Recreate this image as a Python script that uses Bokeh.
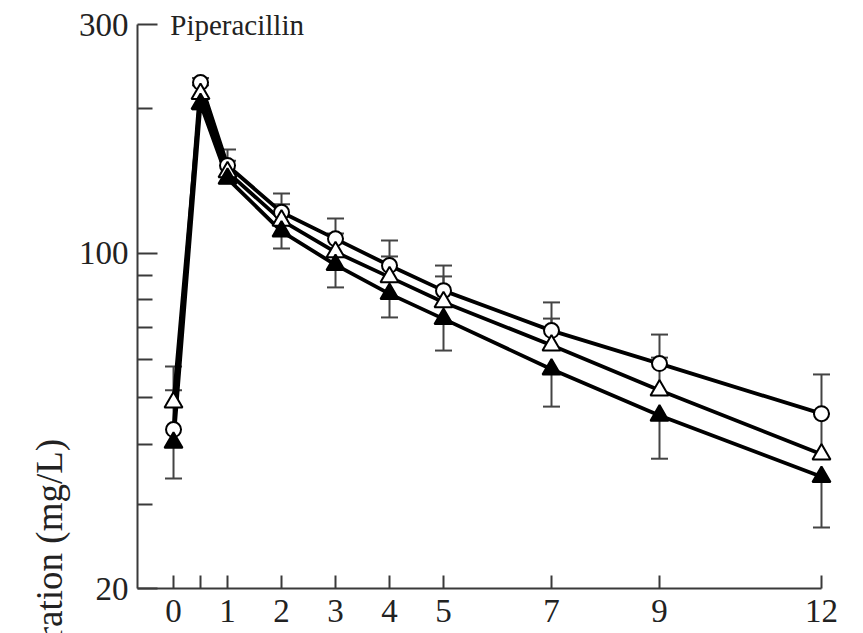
import math
from bokeh.plotting import figure
from bokeh.models import (Range1d, FixedTicker, Label, Whisker, TeeHead,
                          ColumnDataSource, Title)
from bokeh.embed import file_html
from bokeh.resources import INLINE

# ---- data ----
time_h = [0, 0.5, 1, 2, 3, 4, 5, 7, 9, 12]
x_tick_labels = ["0", "", "1", "2", "3", "4", "5", "7", "9", "12"]
y_major = [20, 100, 300]
y_minor = [30, 40, 50, 60, 70, 80, 90, 200]

circle_mean = [42.9, 227.0, 152.5, 121.8, 107.2, 94.3, 83.6, 69.0, 58.9, 46.3]
circle_upper = [58.1, 232.0, 164.7, 133.3, 118.2, 106.4, 94.3, 79.0, 67.7, 55.9]

open_tri_mean = [48.9, 215.0, 147.7, 117.1, 100.6, 89.2, 79.1, 64.3, 51.8, 38.1]
open_tri_upper = [51.8, 224.0, 156.0, 126.5, 110.0, 98.5, 89.5, 73.1, 60.6, 46.3]

filled_tri_mean = [40.3, 205.0, 143.2, 111.1, 94.6, 82.3, 73.0, 57.3, 45.9, 34.2]
filled_tri_lower = [33.9, 199.5, 140.0, 102.4, 84.9, 73.5, 62.7, 47.9, 37.3, 26.8]

title_text = "Piperacillin"
y_title = "Concentration (mg/L)"

# ---- styling ----
FONT = "Liberation Serif"
FS = "33px"
AX = "#3a3a3a"
ERR = "#444444"

p = figure(width=863, height=633, y_axis_type="log",
           x_range=Range1d(-0.667, 12.778), y_range=Range1d(20, 336.7),
           output_backend="svg", toolbar_location=None,
           min_border_left=137, min_border_right=0,
           min_border_top=0, min_border_bottom=45)
p.outline_line_color = None
p.xgrid.visible = False
p.ygrid.visible = False
p.background_fill_color = "white"
p.border_fill_color = "white"

# x axis
xa = p.xaxis[0]
xa.bounds = (-0.667, 12)
xa.ticker = FixedTicker(ticks=time_h)
xa.major_label_overrides = {t: l for t, l in zip(time_h, x_tick_labels)}
xa.major_tick_in = 13
xa.major_tick_out = 0
xa.minor_tick_in = 0
xa.minor_tick_out = 0
xa.axis_line_color = AX
xa.axis_line_width = 2
xa.major_tick_line_color = AX
xa.major_tick_line_width = 2
xa.major_label_text_font = FONT
xa.major_label_text_font_size = FS
xa.major_label_text_color = "#222222"
xa.major_label_standoff = 11

# y axis
ya = p.yaxis[0]
ya.bounds = (20, 300)
ya.ticker = FixedTicker(ticks=y_major, minor_ticks=y_minor)
ya.major_label_overrides = {v: str(v) for v in y_major}
ya.major_tick_in = 20
ya.major_tick_out = 0
ya.minor_tick_in = 15
ya.minor_tick_out = 0
ya.axis_line_color = AX
ya.axis_line_width = 2
ya.major_tick_line_color = AX
ya.major_tick_line_width = 2
ya.minor_tick_line_color = AX
ya.minor_tick_line_width = 2
ya.major_label_text_font = FONT
ya.major_label_text_font_size = FS
ya.major_label_text_color = "#222222"
ya.major_label_standoff = 9

# lines
for ys in (circle_mean, open_tri_mean, filled_tri_mean):
    p.line(time_h, ys, line_color="black", line_width=3.8)

# markers
p.scatter(time_h, circle_mean, marker="circle", size=15,
          fill_color="white", line_color="black", line_width=2)
p.scatter(time_h, open_tri_mean, marker="triangle", size=18,
          fill_color="white", line_color="black", line_width=2)
p.scatter(time_h, filled_tri_mean, marker="triangle", size=18,
          fill_color="black", line_color="black", line_width=2)

# error bars
def add_whisker(mean, bound, up=True):
    src = ColumnDataSource(dict(x=time_h, m=mean, b=bound))
    head = TeeHead(size=17, line_color=ERR, line_width=2)
    if up:
        w = Whisker(source=src, base="x", lower="m", upper="b",
                    lower_head=None, upper_head=head,
                    line_color=ERR, line_width=2)
    else:
        w = Whisker(source=src, base="x", lower="b", upper="m",
                    lower_head=head, upper_head=None,
                    line_color=ERR, line_width=2)
    p.add_layout(w)

add_whisker(circle_mean, circle_upper, up=True)
add_whisker(open_tri_mean, open_tri_upper, up=True)
add_whisker(filled_tri_mean, filled_tri_lower, up=False)

# panel title
p.add_layout(Label(x=-0.06, y=300, text=title_text, text_font=FONT,
                   text_font_size="29px", text_color="#222222",
                   text_align="left", text_baseline="middle"))

# y-axis title (cropped at the bottom, as in the reference)
p.add_layout(Title(text=y_title, align="left", offset=-174,
                   text_font=FONT, text_font_size="37px",
                   text_font_style="normal", text_color="#222222",
                   standoff=11), "left")

open("out.html", "w").write(file_html(p, INLINE))
